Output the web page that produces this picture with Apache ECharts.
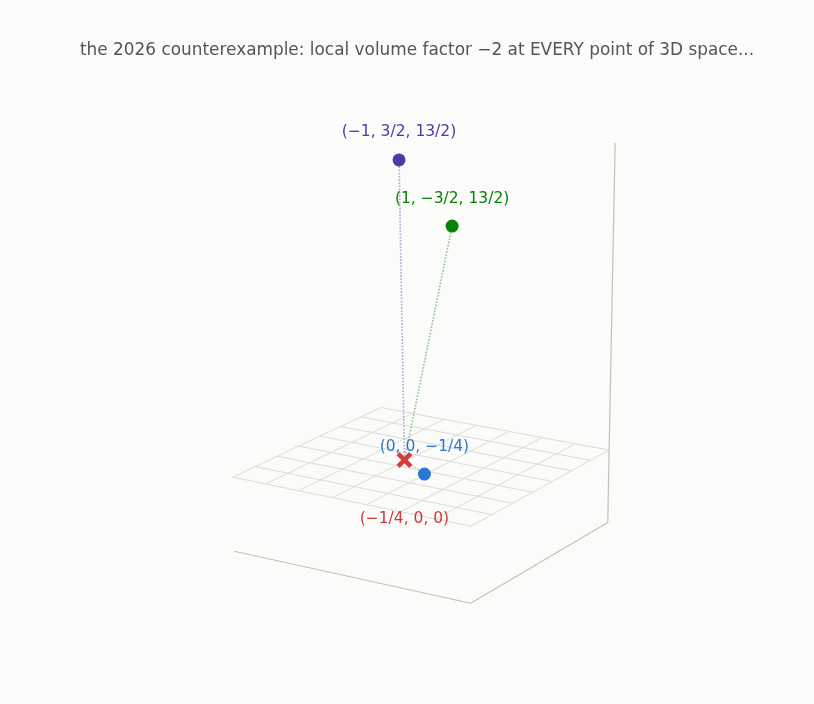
<!DOCTYPE html>
<html><head><meta charset="utf-8">
<script src="https://cdn.jsdelivr.net/npm/echarts@6/dist/echarts.min.js"></script>
<style>html,body{margin:0;padding:0;background:#fbfbf9}#c{width:814px;height:704px}</style>
</head><body><div id="c"></div>
<script>
// ---- data ----
const titleText = 'the 2026 counterexample: local volume factor \u22122 at EVERY point of 3D space...';
const pointLabels = ['(\u22121, 3/2, 13/2)', '(1, \u22123/2, 13/2)', '(0, 0, \u22121/4)'];
const pointX = [-1, 1, 0];
const pointY = [1.5, -1.5, 0];
const pointZ = [6.5, 6.5, -0.25];
const crossLabels = ['(\u22121/4, 0, 0)'];
const crossX = [-0.25];
const crossY = [0];
const crossZ = [0];
// axis ranges of the 3D box
const xRange = [-1.469, 1.436];
const yRange = [-1.961, 1.977];
const zRange = [-1.813, 7.393];
const gridDivisions = 7;

// ---- camera (view) ----
const cam = {theta:-0.5558, phi:0.3209, scale:94.512, ky:0.7292, kz:0.4540, invD:0.03005, cx:424.43, cy:463.87};
function proj(x,y,z){
  const c=cam, X=x, Y=y*c.ky, Z=z*c.kz;
  const u=X*Math.cos(c.theta)-Y*Math.sin(c.theta);
  const h=X*Math.sin(c.theta)+Y*Math.cos(c.theta);
  const v=Z*Math.cos(c.phi)+h*Math.sin(c.phi);
  const w=-h*Math.cos(c.phi)+Z*Math.sin(c.phi);
  const f=1/(1-w*c.invD);
  return [c.cx+c.scale*u*f, c.cy-c.scale*v*f];
}
const [x0,x1]=xRange,[y0,y1]=yRange,[z0,z1]=zRange;
const linesPlane=[];
for(let i=0;i<=gridDivisions;i++){
  const x=x0+(x1-x0)*i/gridDivisions, y=y0+(y1-y0)*i/gridDivisions;
  linesPlane.push({coords:[proj(x,y0,0),proj(x,y1,0)]});
  linesPlane.push({coords:[proj(x0,y,0),proj(x1,y,0)]});
}
const linesBox=[
  {coords:[proj(x0,y0,z0),proj(x1,y0,z0)]},
  {coords:[proj(x1,y0,z0),proj(x1,y1,z0)]},
  {coords:[proj(x1,y1,z0),proj(x1,y1,z1)]}
];
const crossS=proj(crossX[0],crossY[0],crossZ[0]);
const ptS=pointX.map((x,i)=>proj(x,pointY[i],pointZ[i]));
const colors=['#4b3aa9','#068306','#2a78d6'];
const labelColors=['#4b3aa9','#068306','#2f78cf'];
const lab={fontSize:15.5,fontFamily:'DejaVu Sans'};
const chart=echarts.init(document.getElementById('c'));
chart.setOption({
 backgroundColor:'#fbfbf9', animation:false,
 title:{text:titleText,left:75,top:37,textStyle:{fontSize:16.9,fontWeight:'normal',color:'#555',fontFamily:'DejaVu Sans'}},
 grid:{left:0,right:0,top:0,bottom:0},
 xAxis:{type:'value',min:0,max:814,show:false},
 yAxis:{type:'value',min:0,max:704,inverse:true,show:false},
 series:[
  {type:'lines',coordinateSystem:'cartesian2d',silent:true,data:linesPlane,lineStyle:{color:'#dddcd4',width:1,opacity:1}},
  {type:'lines',coordinateSystem:'cartesian2d',silent:true,data:linesBox,lineStyle:{color:'#c2c1b9',width:1.2,opacity:1}},
  {type:'lines',coordinateSystem:'cartesian2d',silent:true,data:[{coords:[ptS[0],crossS]}],lineStyle:{color:'#aea6d6',width:1.6,type:'dotted',opacity:1}},
  {type:'lines',coordinateSystem:'cartesian2d',silent:true,data:[{coords:[ptS[1],crossS]}],lineStyle:{color:'#8fc68f',width:1.6,type:'dotted',opacity:1}},
  {type:'lines',coordinateSystem:'cartesian2d',silent:true,data:[{coords:[crossS,ptS[2]]}],lineStyle:{color:'#b4c8e0',width:1.6,type:'dotted',opacity:1}},
  {type:'scatter',symbolSize:13,silent:true,data:ptS.map((s,i)=>({value:s,itemStyle:{color:colors[i],opacity:1},
     label:Object.assign({show:true,position:'top',distance:13,formatter:pointLabels[i],color:labelColors[i]},lab)}))},
  {type:'scatter',silent:true,symbol:'path://M2,0 L5,3 L8,0 L10,2 L7,5 L10,8 L8,10 L5,7 L2,10 L0,8 L3,5 L0,2 Z',symbolSize:16,
   data:crossX.map((x,i)=>({value:crossS,label:Object.assign({show:true,position:'bottom',distance:43,formatter:crossLabels[i],color:'#cc3a40'},lab)})),
   itemStyle:{color:'#d63c3c',opacity:1}}
 ]
});
</script></body></html>
